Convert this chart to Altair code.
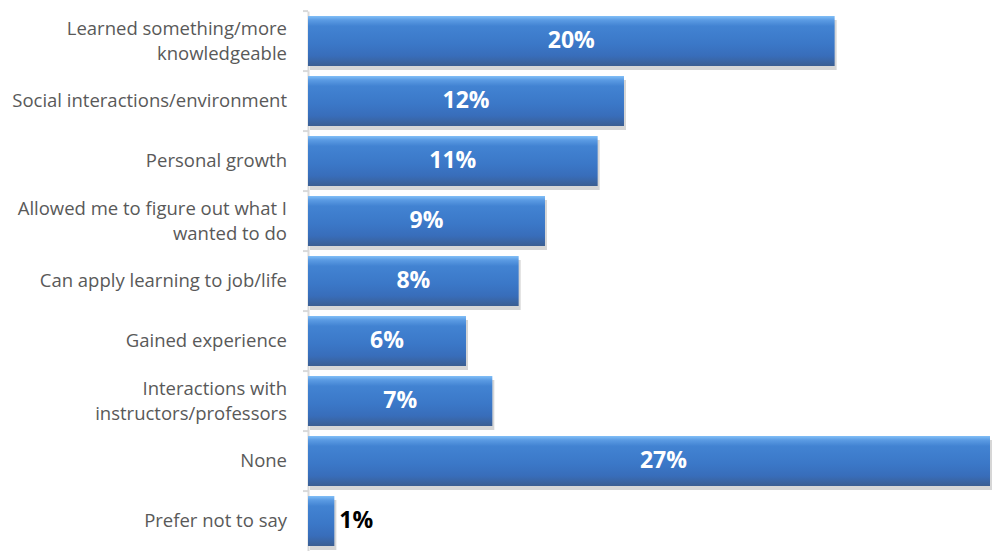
import altair as alt
import pandas as pd

categories = [
    "Learned something/more|knowledgeable",
    "Social interactions/environment",
    "Personal growth",
    "Allowed me to figure out what I|wanted to do",
    "Can apply learning to job/life",
    "Gained experience",
    "Interactions with|instructors/professors",
    "None",
    "Prefer not to say",
]
values = [20, 12, 11, 9, 8, 6, 7, 27, 1]
value_labels = ["20%", "12%", "11%", "9%", "8%", "6%", "7%", "27%", "1%"]

df = pd.DataFrame({"cat": categories, "value": values, "label": value_labels})

FONT = "Open Sans"
LABEL_SIZE = 18.5

y_scale = alt.Scale(paddingInner=0.17, paddingOuter=0.085)
y_axis = alt.Axis(
    labels=False,
    ticks=False,
    domainColor="#d9d9d9",
    domainWidth=2,
    grid=False,
)
y_enc = alt.Y("cat:N", sort=categories, title=None, scale=y_scale, axis=y_axis)

x_scale = alt.Scale(domain=[0, 25.9], clamp=True)
x_enc = alt.X("value:Q", scale=x_scale, axis=None)

base = alt.Chart(df)

shadow = base.mark_bar(color="#c8c8c8", xOffset=2, yOffset=4, opacity=0.75).encode(
    x=x_enc,
    y=y_enc,
)

bars = base.mark_bar(
    fill=alt.Gradient(
        gradient="linear",
        x1=0, x2=0, y1=0, y2=1,
        stops=[
            alt.GradientStop(color="#80bef7", offset=0.0),
            alt.GradientStop(color="#5b9be3", offset=0.08),
            alt.GradientStop(color="#4283d2", offset=0.2),
            alt.GradientStop(color="#3b78c8", offset=0.55),
            alt.GradientStop(color="#386dba", offset=0.8),
            alt.GradientStop(color="#3b5e92", offset=1.0),
        ],
    ),
).encode(
    x=x_enc,
    y=y_enc,
)

ticks = base.mark_rule(color="#d9d9d9", strokeWidth=2, yOffset=-5).encode(
    x=alt.value(-5),
    x2=alt.value(0),
    y=alt.Y("cat:N", sort=categories, title=None, scale=y_scale, axis=y_axis, bandPosition=0),
)

inside = base.transform_filter("datum.value >= 3").transform_calculate(
    mid="datum.value / 2"
).mark_text(
    font=FONT, fontSize=23, fontWeight="bold", color="white", align="center", baseline="middle"
).encode(
    x=alt.X("mid:Q", scale=x_scale, axis=None),
    y=y_enc,
    text="label:N",
)

outside = base.transform_filter("datum.value < 3").mark_text(
    font=FONT, fontSize=23, fontWeight="bold", color="black", align="left", baseline="middle", dx=5
).encode(
    x=x_enc,
    y=y_enc,
    text="label:N",
)

label_style = dict(font=FONT, fontSize=LABEL_SIZE, color="#595959", align="right", baseline="middle")

single = base.transform_filter("indexof(datum.cat, '|') < 0").mark_text(**label_style).encode(
    x=alt.value(-21),
    y=y_enc,
    text="cat:N",
)

first_line = base.transform_filter("indexof(datum.cat, '|') >= 0").transform_calculate(
    line1="split(datum.cat, '|')[0]"
).mark_text(dy=-12.5, **label_style).encode(
    x=alt.value(-21),
    y=y_enc,
    text="line1:N",
)

second_line = base.transform_filter("indexof(datum.cat, '|') >= 0").transform_calculate(
    line2="split(datum.cat, '|')[1]"
).mark_text(dy=12.5, **label_style).encode(
    x=alt.value(-21),
    y=y_enc,
    text="line2:N",
)

chart = (
    alt.layer(shadow, bars, ticks, inside, outside, single, first_line, second_line)
    .properties(
        width=682,
        height=540,
        padding={"left": 4, "top": 2, "right": 0, "bottom": 0},
        background="white",
    )
    .configure_view(stroke=None)
)

chart.save("out.html", embed_options={"renderer": "svg", "actions": False})
